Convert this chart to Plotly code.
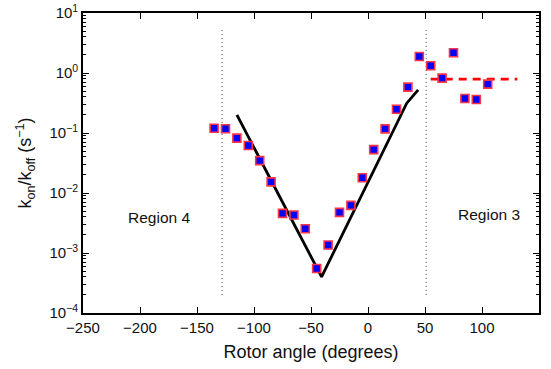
import math
import plotly.graph_objects as go

# Data
angles = [-135, -125, -115, -105, -95, -85, -75, -65, -55, -45, -35, -25, -15,
          -5, 5, 15, 25, 35, 45, 55, 65, 75, 85, 95, 105]
ratio = [0.120, 0.118, 0.082, 0.062, 0.0346, 0.0153, 0.00458, 0.00429, 0.00254,
         0.000553, 0.00136, 0.00476, 0.00623, 0.0180, 0.0528, 0.117, 0.249,
         0.582, 1.88, 1.32, 0.822, 2.17, 0.375, 0.361, 0.653]

model_x = [-115, -40.7, 34, 44]
model_y = [0.20, 0.00040, 0.314, 0.525]

plateau_x = [55, 131]
plateau_y = [0.79, 0.79]

boundary_x = [-128, 51]
boundary_y = [2.0e-4, 5.3]

region_labels = ["Region 4", "Region 3"]
region_label_x = [-183, 106]
region_label_y = [0.0039, 0.0044]

x_ticks = [-250, -200, -150, -100, -50, 0, 50, 100, 150]
y_ticks = [1e-4, 1e-3, 1e-2, 1e-1, 1e0, 1e1]
y_tick_text = ["10<sup>\u22124</sup>", "10<sup>\u22123</sup>", "10<sup>\u22122</sup>",
               "10<sup>\u22121</sup>", "10<sup>0</sup>", "10<sup>1</sup>"]

fig = go.Figure()

for bx in boundary_x:
    fig.add_trace(go.Scatter(x=[bx, bx], y=boundary_y, mode="lines",
                             line=dict(color="#444444", width=1, dash="1px,3px"),
                             showlegend=False, hoverinfo="skip"))

fig.add_trace(go.Scatter(x=model_x, y=model_y, mode="lines",
                         line=dict(color="black", width=2.8),
                         showlegend=False))

fig.add_trace(go.Scatter(x=plateau_x, y=plateau_y, mode="lines",
                         line=dict(color="#ff0000", width=2.8, dash="8px,6px"),
                         showlegend=False))

fig.add_trace(go.Scatter(x=angles, y=ratio, mode="markers",
                         marker=dict(symbol="square", size=8, color="#0000ff",
                                     line=dict(color="#ff3344", width=1.6)),
                         showlegend=False))

for t, tx, ty in zip(region_labels, region_label_x, region_label_y):
    fig.add_annotation(x=tx, y=math.log10(ty), yref="y", xref="x", text=t,
                       showarrow=False,
                       font=dict(size=15.5, color="#111111", family="Liberation Sans"))

axis_common = dict(showline=True, linecolor="black", linewidth=1.6, mirror="ticks",
                   ticks="inside", tickcolor="black", tickwidth=1.2, showgrid=False,
                   zeroline=False, automargin=False,
                   tickfont=dict(size=15, color="#111111", family="Liberation Sans"))

fig.update_xaxes(range=[-250, 150], tickvals=x_ticks,
                 ticktext=[str(v).replace("-", "\u2212") for v in x_ticks],
                 ticklen=6,
                 title=dict(text="Rotor angle (degrees)", standoff=11,
                            font=dict(size=18, color="#111111", family="Liberation Sans")),
                 **axis_common)
fig.update_yaxes(type="log", range=[-4, 1], tickvals=y_ticks, ticktext=y_tick_text,
                 ticklen=6,
                 minor=dict(ticks="inside", ticklen=3, tickcolor="black", dtick="D1",
                            showgrid=False),
                 title=dict(text="k<sub>on</sub>/k<sub>off</sub> (s<sup>\u22121</sup>)",
                            standoff=13,
                            font=dict(size=18, color="#111111", family="Liberation Sans")),
                 **axis_common)

fig.update_layout(width=551, height=369, margin=dict(l=83, r=12, t=13, b=56),
                  plot_bgcolor="white", paper_bgcolor="white",
                  font=dict(family="Liberation Sans"))

fig.write_html("out.html")
